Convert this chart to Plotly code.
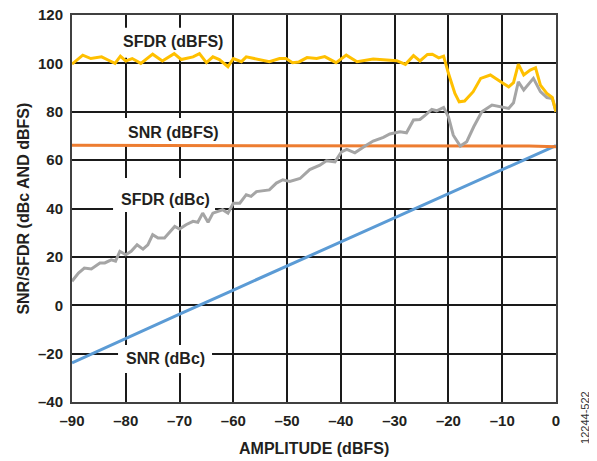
import plotly.graph_objects as go

# ---- data ----
sfdr_dbfs_x = [-90, -88, -86.5, -84.5, -83.3, -82, -81, -80, -78.8, -77.2, -75, -73.2, -71, -69.7,
               -67.5, -66.3, -65, -63.8, -62.6, -61, -60, -58.5, -57.6, -55, -53.3, -51.4, -50.2,
               -49, -47.8, -46.3, -44.5, -43, -42, -40.9, -39, -37, -34, -32, -29.6, -28, -26.5,
               -25.3, -23.9, -23, -21.8, -20.9, -20, -18.8, -18, -17, -15.4, -14, -12.2, -10,
               -8.8, -7.9, -7, -6, -4.8, -3.8, -2.9, -1.7, -0.7, 0]
sfdr_dbfs_y = [99.7, 103.4, 102, 102.7, 101.4, 100, 103, 101, 102, 100, 103.8, 101, 104, 101.6,
               102.7, 104, 100.3, 102.7, 101.6, 98.6, 102, 100.7, 102.7, 101.4, 100.7, 102, 102,
               100.3, 100.6, 102.4, 102, 102.8, 101.7, 100.3, 103.4, 100.7, 101.8, 101.4, 101.1,
               99.6, 103.2, 101, 103.7, 103.8, 102.3, 103, 95.9, 87.6, 84.1, 84.4, 88.3, 93.8,
               95.2, 92, 90.3, 92, 99.7, 95.2, 97.2, 98.2, 91, 87.6, 85.9, 80]

sfdr_dbc_x = [-90, -88.8, -87.7, -86.4, -84.8, -83.9, -82.7, -81.9, -81.1, -80, -79, -77.9, -76.8,
              -75.9, -75, -74, -72.8, -70.9, -70, -68.8, -67.5, -66.6, -65.7, -64.7, -63.8, -62,
              -61, -60, -58.8, -57.6, -56.7, -55.7, -53.3, -52, -50.8, -49.5, -47.6, -45.8, -43.9,
              -42.7, -41.1, -39.9, -38.9, -37.4, -35.5, -34, -32.1, -30.9, -29, -27.8, -26.5,
              -25.3, -24.3, -23.1, -22.2, -20.9, -20, -19.1, -17.8, -16.6, -15.3, -13.8, -11.9,
              -10.4, -8.8, -7.9, -7, -6, -4.2, -2.9, -1.7, -0.7, 0]
sfdr_dbc_y = [9.9, 13.3, 15.4, 15, 17.5, 17.5, 18.8, 18.2, 22.3, 20.9, 22.3, 25, 23.2, 25, 29.2,
              27.8, 27.8, 32.6, 31.5, 33.3, 34.7, 34.3, 38.1, 34.3, 38.1, 39.5, 38.1, 42.2, 42.2,
              45.7, 45, 47, 47.7, 50.5, 51.9, 51.2, 52.4, 56.1, 57.9, 59.7, 59.3, 63.4, 64.4, 63,
              65.8, 67.9, 69.4, 70.8, 71.7, 71.3, 76.6, 76.8, 78.6, 81, 80.4, 81.8, 77.9, 70.3,
              65.8, 67.6, 73.8, 80, 82.8, 82.1, 81.4, 83.7, 92.4, 89, 93.8, 88.3, 85.9, 85.5, 80]

snr_dbfs_x = [-90, -80, -70, -60, -50, -40, -30, -20, -10, -5, 0]
snr_dbfs_y = [66.1, 66.1, 66.1, 66.1, 66.1, 66.1, 66.1, 66.0, 66.0, 65.8, 65.5]

snr_dbc_x = [-90, -80, -70, -60, -50, -40, -30, -20, -10, 0]
snr_dbc_y = [-23.8, -13.9, -3.7, 6.3, 16.2, 26.1, 36.1, 46.0, 56.0, 66.0]

x_ticks = [-90, -80, -70, -60, -50, -40, -30, -20, -10, 0]
x_tick_labels = ["–90", "–80", "–70", "–60", "–50", "–40", "–30", "–20", "–10", "0"]
y_ticks = [-40, -20, 0, 20, 40, 60, 80, 100, 120]
y_tick_labels = ["–40", "–20", "0", "20", "40", "60", "80", "100", "120"]

series_labels = ["SFDR (dBFS)", "SNR (dBFS)", "SFDR (dBc)", "SNR (dBc)"]
label_x = [-71.2, -71.2, -72.7, -72.7]
label_y = [108.9, 71.4, 43.7, -22.2]

FONT = "Liberation Sans, Arial, sans-serif"
TXT = "#231F20"

fig = go.Figure()
fig.add_trace(go.Scatter(x=snr_dbc_x, y=snr_dbc_y, mode="lines",
                         line=dict(color="#5B9BD5", width=3), name="SNR (dBc)"))
fig.add_trace(go.Scatter(x=snr_dbfs_x, y=snr_dbfs_y, mode="lines",
                         line=dict(color="#ED7D31", width=3), name="SNR (dBFS)"))
fig.add_trace(go.Scatter(x=sfdr_dbc_x, y=sfdr_dbc_y, mode="lines",
                         line=dict(color="#A5A5A5", width=3), name="SFDR (dBc)"))
fig.add_trace(go.Scatter(x=sfdr_dbfs_x, y=sfdr_dbfs_y, mode="lines",
                         line=dict(color="#FFC000", width=3), name="SFDR (dBFS)"))

# white label boxes (pixel-sized, between gridlines and traces)
box_px = [(-58, 58, -16, 14), (-53, 53, -13.5, 14.5), (-52, 50, -12.5, 21.5), (-47, 47, -14, 14)]
for (x0, x1, y0, y1), lx, ly in zip(box_px, label_x, label_y):
    fig.add_shape(type="rect", xref="x", yref="y", xsizemode="pixel", ysizemode="pixel",
                  xanchor=lx, yanchor=ly, x0=x0, x1=x1, y0=y0, y1=y1,
                  fillcolor="white", line=dict(width=0), layer="between")

for txt, lx, ly in zip(series_labels, label_x, label_y):
    fig.add_annotation(x=lx, y=ly, text=txt, showarrow=False,
                       font=dict(family=FONT, size=16, color=TXT, weight="bold"))

# axis titles
fig.add_annotation(xref="paper", yref="paper", x=0.5, y=-0.119, yanchor="middle",
                   text="AMPLITUDE (dBFS)", showarrow=False,
                   font=dict(family=FONT, size=16, color=TXT, weight="bold"))
fig.add_annotation(xref="paper", yref="paper", x=-0.101, y=0.5, xanchor="center",
                   text="SNR/SFDR (dBc AND dBFS)", textangle=-90, showarrow=False,
                   font=dict(family=FONT, size=16, color=TXT, weight="bold"))

fig.add_annotation(xref="paper", yref="paper", x=1.075, y=-0.114, text="12244-522",
                   textangle=-90, showarrow=False,
                   font=dict(family=FONT, size=11, color="#333333"))

axis_common = dict(showgrid=True, gridcolor="#1a1a1a", gridwidth=1.5, zeroline=False,
                   showline=True, linecolor="#404040", linewidth=2, mirror=True,
                   ticks="", automargin=False, ticklabeloverflow="allow",
                   tickfont=dict(family=FONT, size=15, color=TXT, weight="bold"))

fig.update_xaxes(range=[-90, 0], tickvals=x_ticks, ticktext=x_tick_labels,
                 ticklabelstandoff=4, **axis_common)
fig.update_yaxes(range=[-40, 120], tickvals=y_ticks, ticktext=y_tick_labels,
                 ticklabelstandoff=4, **axis_common)

# page body adds an 8px offset, so margins are reduced by 8 on the left/top
fig.update_layout(width=597, height=461, margin=dict(l=64, r=49, t=7, b=67),
                  plot_bgcolor="white", paper_bgcolor="white", showlegend=False)

fig.write_html("out.html")
